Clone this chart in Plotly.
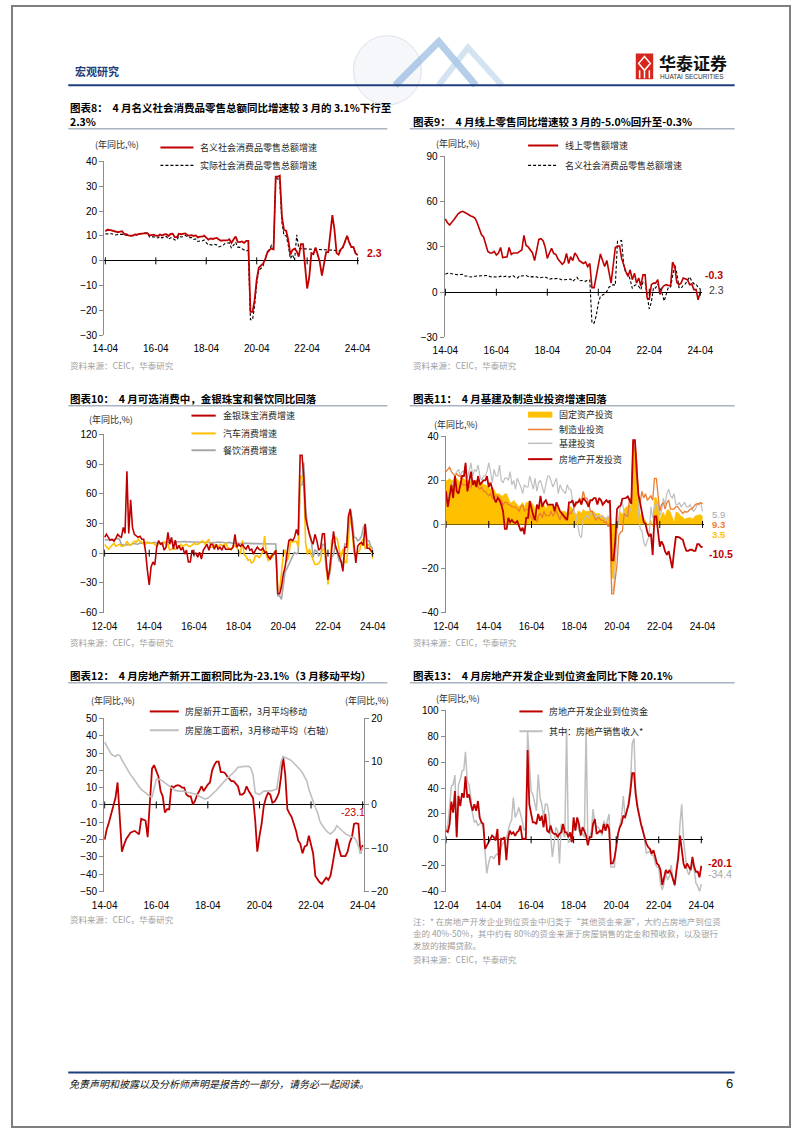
import pandas as pd
import plotly.graph_objects as go

W, H = 802, 1133

# ======================= DATA =======================
# 图表8  (monthly, from 2014-04)
c8_start = "2014-04-01"
c8_nominal = [
    11.9, 12.5, 12.4, 12.2, 11.9, 11.6, 11.5, 11.7, 11.9,
    10.7, 10.7, 10.2, 10.0, 10.1, 10.6, 10.5, 10.8, 10.9, 11.0, 11.2, 11.1,
    10.2, 10.2, 10.5, 10.1, 10.0, 10.6, 10.2, 10.6, 10.7, 10.0, 10.8, 10.9,
    9.5, 9.5, 10.9, 10.7, 10.7, 11.0, 10.4, 10.1, 10.3, 10.0, 10.2, 9.4,
    9.7, 9.7, 10.1, 9.4, 8.5, 9.0, 8.8, 9.0, 9.2, 8.6, 8.1, 8.2,
    8.2, 8.2, 8.7, 7.2, 8.6, 9.8, 7.6, 7.5, 7.8, 7.2, 8.0, 8.0,
    -20.5, -20.5, -15.8, -7.5, -2.8, -1.8, -1.1, 0.5, 3.3, 4.3, 5.0, 4.6,
    33.8, 33.8, 34.2, 17.7, 12.4, 12.1, 8.5, 2.5, 4.4, 4.9, 3.9, 1.7,
    6.7, 6.7, -3.5, -11.1, -6.7, 3.1, 2.7, 5.4, 2.5, -0.5, -5.9, -1.8,
    3.5, 3.5, 10.6, 18.4, 12.7, 3.1, 2.5, 4.6, 5.5, 7.6, 10.1, 7.4,
    5.5, 5.5, 3.1, 2.3,
]
c8_real = [
    10.8, 10.9, 10.8, 10.9, 10.6, 10.4, 10.6, 10.8, 10.7,
    10.5, 10.5, 10.2, 10.0, 10.2, 10.6, 10.4, 10.8, 10.9, 11.1, 11.3, 11.1,
    9.6, 9.6, 9.7, 9.3, 9.2, 9.8, 9.2, 9.8, 9.8, 8.7, 9.3, 9.2,
    8.4, 8.4, 10.0, 9.6, 9.7, 10.2, 9.6, 9.3, 9.4, 8.6, 8.8, 7.8,
    8.0, 8.0, 8.4, 7.2, 6.4, 6.5, 6.3, 6.6, 6.4, 5.6, 5.8, 6.2,
    7.1, 7.1, 7.2, 5.1, 6.4, 7.5, 5.5, 5.4, 4.9, 4.5, 3.9, 4.3,
    -23.7, -23.7, -18.1, -9.1, -3.7, -3.1, -2.1, 0.5, 3.7, 4.5, 6.3, 5.4,
    33.0, 33.0, 31.6, 15.4, 10.2, 10.1, 6.4, 0.9, 2.5, 0.2, 10.5, 5.0,
    4.8, 4.8, 4.8, 4.7, 4.7, 4.7, 4.6, 4.6, 4.6, 4.6, 4.5, 4.5,
    4.4, 4.4, 4.3, 4.3, 4.2, 4.0, 3.8, 4.6, 5.5, 7.6, 10.1, 7.4,
    5.5, 5.5, 3.1, 2.3,
]

# 图表9 (monthly, from 2014-04)
c9_start = "2014-04-01"
c9_online = [
    48.6, 46, 44.5, 46, 48, 50, 52, 53, 53.6,
    53, 52, 51, 50.5, 50, 49, 46, 42, 38, 36.6, 32, 27,
    26, 26, 27, 24.6, 26, 29.6, 23, 23, 23.5, 29.6, 25, 26,
    26, 26, 27, 28, 37.7, 31, 30, 28, 26, 21, 28, 35,
    35.5, 34, 30, 22.4, 26, 29, 25.7, 25, 22, 20, 18.5, 20,
    25.7, 19, 23.5, 21, 26, 24, 21, 20, 19, 20, 17, 19,
    3, 3, 10.5, 19.6, 25.3, 21, 17, 21, 12, 6, 18, 29.6,
    30.5, 30.5, 22.4, 17, 13.7, 10.4, 14.8, 8.3, 12.6, 6, 9.4, 4,
    11.5, 11.5, -3.7, -5, 5, 6, 6, 8.3, -1.5, 2.8, 4.4, 5,
    4.4, 4.4, 20, 17, 6.5, 5, 6, 9.4, 9, 8.3, 5, 5.5,
    1.7, 1.7, -5, -0.3,
]
c9_nominal = c8_nominal

# 图表10 (monthly, from 2012-04)
c10_start = "2012-04-01"
c10_jewelry = [
    16, 19, 16, 13, 14, 12, 15, 19, 17,
    16, 26, 20, 82.7, 20, 54, 26, 19, 17, 16, 17, 14,
    14, 1, -17, -32, -14, -9, -12, 6, 12.7, 9, 10, 3,
    6, 21, 9, 16, 4, 13, 4, 8, 3, 6, -1, 3,
    -9, -9, 3, -1, 0, -4, 1, -6, 3, 6, 9, 3,
    9, 9, 4, 9, 4, 6, 3, 8, 4, 4, 4, 4,
    6, 19, 6, 9, 7, 9, 6, 4, 8, 3, 4, -1,
    3, 6, 4, 3, 5, 1, 1, -4, -6, -2, -1, 3,
    -41, -41, -34, -21, -14, -1, 12.7, 14, 12.7, 16, 24, 18,
    99, 99, 77.7, 36, 26, 19, 12.7, 9, 19, 12.7, 3, 5,
    19.5, 19.5, -7.1, -26.7, -15.5, 8.1, 22.1, 7.2, 1.5, -4.7, -8.1, -18.4,
    5.9, 5.9, 37.4, 44.7, 24.4, 7.8, -10.0, 7.2, 9.7, 10.7, 7.7, 29.4,
    5.0, 5.0, 3.2, 0.7,
]
c10_auto = [
    8.7, 6, 4, 6, 8, 10, 7, 8, 9,
    7, 7, 8, 12, 9, 8, 10, 12, 11, 14, 12, 11,
    9, 9, 11, 10, 10, 10, 9, 7, 10, 10, 8, 12,
    9, 9, 3, 4.5, 5, 4, 6, 6, 9, 7, 8, 9,
    7, 7, 8, 10, 9, 9, 10, 12, 12, 9, 12, 14,
    6, 6, 8, 7, 6, 9, 8, 8, 10, 6, 5, 3,
    7.4, 7.4, 5.7, 2.0, -1.0, 13.0, -2.0, -3.2, -7.1, -6.4, -10.0, -8.5,
    -2.8, -2.8, -4.4, -2.2, 1.8, 17.2, -2.6, -8.1, -2.0, -4.6, 1.0, 1.8,
    -37, -37, -18.1, -2.1, 3.5, -8.2, -1.8, 11.8, 11.3, 12.0, 11.8, 6.4,
    77.6, 77.6, 72.0, 10.1, -1.4, 4.1, -1.9, -7.4, -11.5, -11.5, -10.3, -7.4,
    3.6, 3.6, -7.5, -31.6, -16.0, 13.9, 9.7, 15.9, 14.2, 3.9, -4.2, 4.6,
    -9.4, -9.4, 11.5, 38.0, 24.2, -1.1, -1.5, 1.1, 2.8, 11.4, 14.7, 4.0,
    8.7, 8.7, 3.3, -5.6,
]
c10_catering = [
    13.8, 13.3, 13.8, 13.0, 13.2, 13.9, 14.3, 14.7, 14.3,
    8.4, 8.4, 7.8, 8.8, 8.3, 8.3, 9.9, 9.3, 9.2, 9.0, 10.3, 10.1,
    10.8, 10.8, 10.6, 10.8, 10.0, 10.4, 11.1, 9.9, 10.5, 10.3, 10.6, 10.7,
    11.1, 11.1, 11.5, 11.5, 11.5, 11.8, 11.4, 11.5, 11.7, 11.8, 11.8, 11.6,
    11.3, 11.3, 11.2, 11.2, 11.2, 11.2, 10.6, 10.9, 10.7, 10.6, 10.8, 10.8,
    10.4, 10.4, 10.9, 10.9, 11.3, 11.3, 11.3, 10.7, 10.3, 10.9, 10.9, 10.4,
    9.8, 9.8, 10.1, 9.6, 9.5, 10.1, 9.9, 9.8, 9.6, 9.4, 9.5, 9.6,
    9.6, 9.6, 9.6, 9.4, 9.4, 9.4, 9.3, 9.6, 9.3, 9.4, 9.4, 9.3,
    -43.1, -43.1, -46.8, -31.1, -18.9, -15.2, -11.0, -7.0, -2.9, 0.8, -0.6, 0.4,
    68.9, 68.9, 91.6, 46.4, 26.6, 20.5, 14.3, -4.5, 3.1, 2.0, -2.7, -1.0,
    8.9, 8.9, -16.4, -22.7, -21.1, -4.0, -1.5, 8.4, -1.7, -8.1, -8.4, -14.1,
    9.2, 9.2, 26.3, 43.8, 35.1, 16.1, 15.8, 12.4, 13.8, 17.1, 25.8, 30.0,
    12.5, 12.5, 6.9, 4.4,
]

# 图表11 (monthly, from 2012-04)
c11_start = "2012-04-01"
c11_fai = [
    20, 20, 21, 20, 20, 21, 21, 20, 19,
    21, 21, 20, 20, 20, 19.6, 20, 20, 20, 20, 19, 19,
    18, 18, 17.5, 17, 16, 17, 16, 14, 14, 14, 13, 13,
    14, 14, 12, 10, 10, 11, 10, 9, 8, 9, 10, 8,
    10, 10, 11, 10, 9, 7, 4, 8, 9, 9, 9, 7,
    9, 9, 9, 8, 8, 8, 7, 6, 6, 6, 6, 5,
    8, 8, 7, 5, 4, 6, 6, 5, 7, 6, 6, 6,
    6, 6, 6, 5, 5, 5, 4, 4, 3, 3, 3, 3,
    -24.5, -24.5, -16, -0.9, 3.5, 5.8, 4.3, 7, 7.8, 8.5, 9, 8.5,
    35, 35, 25.6, 12, 4, 5.5, 2.7, 1.9, -0.4, 0.6, 2, -0.9,
    12.2, 12.2, 9.3, 1.8, 4.4, 5.6, 3.6, 6.4, 6.7, 5.5, 3.2, 1,
    5.5, 5.5, 4.7, 3.6, 3.4, 2.4, 2.8, 2.9, 3.1, 2.6, 2.9, 4,
    4.2, 4.2, 4.5, 3.5,
]
c11_mfg = [
    24, 25, 26, 24, 23, 22, 23, 22, 22,
    18, 18, 18, 18, 17, 17, 19, 18, 20, 17, 16, 17,
    15, 15, 14, 13, 14, 12, 12, 13, 13, 12, 11, 9,
    10, 10, 9, 9, 8, 8, 8, 7, 6, 8, 9, 6,
    7, 7, 4, 3, 2, 3, 1, 4, 5, 3, 6, 4,
    4, 4, 6, 4, 5, 6, 4, 2, 5, 3, 2, 3,
    5, 5, 6, 8, 9, 10, 12, 10, 15, 12, 12, 10,
    6, 6, 4, 2, 3, 3, 2, 2, 1, 1, -1, 1,
    -31.5, -31.5, -25, -18, -5, -3.5, -3, 5, 4, 3.7, 12, 10,
    37.3, 37.3, 29, 13, 10, 15, 12, 14, 11, 12, 13, 11,
    20.9, 20.9, 15, 6, 9, 9.9, 7, 10, 11, 7, 7, 7,
    8.1, 8.1, 7, 6, 5, 6, 5.5, 6, 7, 7, 8, 9,
    9.4, 9.4, 9.9, 9.3,
]
c11_infra = [
    10, 12, 14, 17, 20, 22, 24, 25, 22,
    24, 24, 27, 21, 24, 28, 22, 25, 24, 27, 22, 20,
    22, 22, 24, 28, 24, 19, 25, 22, 22, 27, 20, 19,
    21, 21, 20, 24, 18, 20, 16, 21, 19, 17, 14, 18,
    17, 17, 22, 19, 16, 21, 15, 19, 20, 17, 14, 18,
    22, 22, 19, 17, 19, 21, 14, 18, 16, 15, 14, 18,
    16, 16, 11, 6, 4, 0, -5, -6, 2, 3, 4, 3,
    5, 5, 5, 3, 4, 4, 3, 4, 3, 2, 4, 2,
    -30, -30, -19, -3, 3, 9, 10, 5, 3, 5, 7, 6,
    35, 35, 29, 6, -2, -3, -8, -10, -7, -5, 8, 3,
    8.6, 8.6, 10, 4, 6, 12, 9, 14, 16, 13, 12, 14,
    9, 9, 10, 8, 9, 10, 8, 8, 9, 7, 6, 7,
    9, 9, 10, 5.9,
]
c11_realestate = [
    15, 8, 13, 18, 12, 22, 15, 14, 18,
    22, 22, 28, 15, 20, 24, 18, 20, 17, 22, 18, 19,
    20, 20, 22, 17, 19, 16, 12, 10, 12, 11, 9, 6,
    -2, -2, 3, 1, 2, 1, 0.7, 1.5, -1, -3, -1.5, -4.5,
    3, 3, 10.6, 7, 4, 2, 9, 7, 13, 8, 10, 11,
    9, 9, 9, 9, 6, 10, 8, 6, 5, 4, 3, 2,
    10, 10, 11, 8, 10, 10, 11, 9, 12, 11, 10, 8,
    11, 11, 12, 12, 9, 12, 11, 9, 10, 11, 10, 11,
    -16.3, -16.3, -7.7, 7, 8.1, 8.5, 11.7, 11.8, 12, 12.7, 10.9, 9.3,
    38.3, 38.3, 25, 13.7, 9.8, 5.8, 1.1, 0.3, -3.5, -5.4, -4.3, -13.9,
    3.7, 3.7, -2.4, -10.1, -7.7, -9.4, -12.3, -13.8, -12.1, -16, -19.9, -12.2,
    -5.7, -5.7, -5.9, -6.5, -7, -10, -12, -12, -11.5, -11.5, -12, -12,
    -9, -9, -10, -10.5,
]

# 图表12 (monthly, from 2014-04)
c12_start = "2014-04-01"
c12_newstarts = [
    -20, -14, -10, -5, -1.5, 4, 13, -8, -27,
    -23, -19.6, -18, -16, -15.5, -15, -16, -17, -8, -8.5, -9, -18.6,
    2, 21, 23, 20, 16.5, 8, 5, -4.4, -2.5, -2.5, 11, 10,
    11, 11.4, 11, 10, 10, 6, 5, 5, 0.4, 2.3, 6, 8,
    10.8, 8, 10, 11.8, 13, 20, 23, 25, 25, 19, 19, 18.4,
    16.5, 15, 13.7, 13.7, 12, 10.8, 6, 6, 7, 10.8, 8, 6,
    4, -9, -27, -18, -11, -0.6, 4, 7, 6, 1.3, 2, 4,
    7, 16.5, 28, 17.5, -2.5, -5, -7, -11, -15, -20.5, -22.4, -28,
    -24, -23.4, -17.7, -23, -28, -41, -43, -44.7, -45.6, -44, -42, -43.3,
    -41, -34, -26, -19.6, -25, -29.6, -29.6, -29.6, -27, -21.5, -18.6, -11,
    -10.5, -11, -28, -23.1,
]
c12_construction = [
    14.5, 13.5, 12.5, 11.8, 11.4, 11.2, 11.6, 11.4, 10.4,
    9.5, 8.5, 7.8, 7.0, 6.4, 5.6, 4.8, 4.2, 3.6, 3.2, 2.8, 2.4,
    2.0, 1.8, 4.0, 5.9, 5.9, 5.8, 5.5, 5.1, 4.6, 4.2, 4.0, 3.6,
    3.3, 3.2, 3.2, 3.2, 3.2, 3.0, 2.9, 2.8, 2.7, 2.5, 2.4, 2.0,
    1.7, 1.5, 1.4, 1.6, 2.0, 2.4, 2.8, 3.4, 4.0, 4.6, 5.1, 5.6,
    6.2, 6.6, 7.0, 7.4, 8.0, 8.7, 8.8, 8.9, 8.9, 8.9, 8.9, 8.5,
    7.0, 2.8, 2.6, 2.4, 2.8, 3.2, 3.2, 3.2, 3.2, 3.3, 3.5, 3.6,
    7.0, 10.0, 11.2, 11.0, 10.8, 10.5, 10.2, 9.7, 9.2, 8.6, 8.1, 7.4,
    6.6, 5.5, 3.6, 2.0, 0.5, -0.6, -1.7, -3.6, -4.6, -5.3, -5.9, -6.4,
    -6.7, -6.3, -5.8, -4.8, -5.2, -5.6, -6.2, -6.7, -7.0, -7.3, -7.4, -7.5,
    -8.2, -9.5, -11.3, -9.7,
]

# 图表13 (monthly, from 2012-04)
c13_start = "2012-04-01"
c13_funds = [
    7, 6, 12, 29.5, 21, 37.7, 2, 34, 26,
    36, 32.6, 49, 32.6, 35, 27.5, 22.4, 27.5, 22.4, 30, 17, 13.5,
    12.2, -7, -4.3, -1.8, 1, 3.3, 2, -0.5, 8.4, -19.6, 0.8, 0.8,
    2, -15.8, 0.8, 7, 4.6, 5.8, 3, 5.8, 7, 11, 0.8, 0.8,
    0.8, 69.5, 27.5, 20, 13.5, 13.5, 12.2, 20, 14.8, 18.6, 9.7, 20,
    7, 5.8, 11, 5.8, 4.6, 4.6, 2, 4.6, 5.8, 12.2, 5.8, 5.8,
    2, 5.8, -1.8, 17.3, 7, 17.3, 12.2, 3.3, 9.7, 7, 3.3, -4.3,
    2, 2, 12.2, 16, 4.6, 5.8, 7, 5.8, 12.2, 7, 12.2, 8.4,
    -18.3, -18.3, -14.5, -5.6, 4.6, 9.7, 12.2, 18.6, 17.3, 22.4, 27.5, 37.7,
    51.6, 51.6, 35, 25, 17.3, 12, 7, 2, -3, -5.6, -7, -10.7,
    -8.1, -13.2, -18.3, -19.6, -23.4, -34.9, -28.5, -23.4, -26, -23.4, -26, -29.8,
    -34.9, -23.4, -14.5, 3.3, -6.9, -18.3, -22.1, -18.3, -20.9, -23.4, -13.2, -20.9,
    -24.7, -24.7, -29, -20.1,
]
c13_sales = [
    7, 11.5, 25, 41.5, 42.7, 50, 2, 42.7, 46.6,
    53, 54, 68, 45, 42.7, 32.6, 20, 13.5, 14.8, 11, 12.2, 13.5,
    8.4, -13.2, -26, -18.3, -13.2, -13.2, -14.5, -12, -10.7, -13.2, -5.6, -3,
    -1, 0.8, 6, 12.2, 14.8, 32.6, 17.3, 20, 25, 20, 14.8, 7,
    9.7, 83.5, 55.5, 37.7, 35, 27.5, 22.4, 50.4, 32.6, 27.5, 17.3, 27.5,
    27.5, 20, 4.6, -13.2, -3, 9.7, 7, -18.3, 12.2, 5, 2, 86,
    -1.8, -1, 2, 12.2, 7, 14.8, 7, 5.8, 4.6, 2, 84.7, -0.5,
    2, 7, 23.7, 12.2, 9.7, 9.7, 7, 3.3, 14.8, 9.7, 14.8, 20,
    -21, -21, -21, -3, 4.6, 12.2, 17.3, 33.8, 17.3, 22.4, 30, 42.7,
    74.5, 78.4, 40, 27.5, 20, 12, 9.7, 0, -10.7, -9.4, -9.4, -12,
    -12, -18.3, -21, -21, -33.6, -38.7, -33.6, -26, -31, -28.5, -19.6, -31,
    -36, -21, -12, 12.2, 27.5, -0.5, -14.5, -23.4, -27.2, -23.4, -18.3, -23.4,
    -33.6, -36, -40, -34.4,
]

ticks_14 = ["2014-04-01", "2016-04-01", "2018-04-01", "2020-04-01", "2022-04-01", "2024-04-01"]
ticks_12 = ["2012-04-01", "2014-04-01", "2016-04-01", "2018-04-01", "2020-04-01", "2022-04-01", "2024-04-01"]

# ======================= STYLE =======================
CJK = "Noto Sans CJK SC, sans-serif"
NUM = "Liberation Sans, Arial, sans-serif"
RED = "#C00000"
ORANGE = "#ED7D31"
YELLOW = "#FFC000"
GRAY = "#A6A6A6"
LGRAY = "#BFBFBF"
AXC = "#8C8C8C"
DASH = "3px,2px"


def X(p):
    return p / W


def Y(p):
    return 1 - p / H


def mdates(start, vals):
    return pd.date_range(start, periods=len(vals), freq="MS")


fig = go.Figure()


def add_line(xa, ya, start, vals, color, width, dash="solid"):
    fig.add_trace(go.Scatter(
        x=mdates(start, vals), y=vals, mode="lines",
        line=dict(color=color, width=width, dash=dash),
        xaxis=xa, yaxis=ya, showlegend=False, hoverinfo="skip"))


def add_ticks(xa, ya, ticks):
    fig.add_trace(go.Scatter(
        x=pd.to_datetime(ticks), y=[0] * len(ticks), mode="markers",
        marker=dict(symbol="line-ns", size=5, line=dict(color="#000", width=1)),
        xaxis=xa, yaxis=ya, showlegend=False, hoverinfo="skip"))


def xcfg(px0, px1, rng, ticks, anchor):
    return dict(domain=[X(px0), X(px1)], range=rng, type="date",
                tickvals=ticks,
                ticktext=[pd.Timestamp(t).strftime("%y-%m") for t in ticks],
                showline=False, showgrid=False, zeroline=False,
                ticks="outside", ticklen=4, tickcolor="rgba(0,0,0,0)",
                tickfont=dict(family=NUM, size=10, color="#000"),
                anchor=anchor)


def ycfg(top, bottom, rng, dtick, anchor, side="left", zero=True, overlay=None):
    d = dict(domain=[Y(bottom), Y(top)], range=[rng[0] - 0.001, rng[1] + 0.001],
             dtick=dtick, tick0=0,
             showline=True, linecolor=AXC, linewidth=1, showgrid=False,
             zeroline=zero, zerolinecolor="#000", zerolinewidth=1,
             ticks="outside", ticklen=4, tickcolor=AXC,
             tickfont=dict(family=NUM, size=10, color="#000"),
             anchor=anchor, side=side, layer="above traces")
    if overlay:
        d["overlaying"] = overlay
    return d


# ---- 图表8 ----
add_line("x", "y", c8_start, c8_real, "#000", 1.1, DASH)
add_line("x", "y", c8_start, c8_nominal, RED, 1.8)
add_ticks("x", "y", ticks_14)
# ---- 图表9 ----
add_line("x2", "y2", c8_start, c9_nominal, "#000", 1.1, DASH)
add_line("x2", "y2", c9_start, c9_online, RED, 1.6)
add_ticks("x2", "y2", ticks_14)
# ---- 图表10 ----
add_line("x3", "y3", c10_start, c10_catering, GRAY, 1.6)
add_line("x3", "y3", c10_start, c10_auto, YELLOW, 1.6)
add_line("x3", "y3", c10_start, c10_jewelry, RED, 1.6)
add_ticks("x3", "y3", ticks_12)
# ---- 图表11 ----
fig.add_trace(go.Scatter(
    x=mdates(c11_start, c11_fai), y=c11_fai, mode="lines", fill="tozeroy",
    fillcolor=YELLOW, line=dict(color=YELLOW, width=0.5),
    xaxis="x4", yaxis="y4", showlegend=False, hoverinfo="skip"))
add_line("x4", "y4", c11_start, c11_infra, LGRAY, 1.2)
add_line("x4", "y4", c11_start, c11_mfg, ORANGE, 1.3)
add_line("x4", "y4", c11_start, c11_realestate, RED, 1.8)
add_ticks("x4", "y4", ticks_12)
# ---- 图表12 ----
add_line("x5", "y7", c12_start, c12_construction, LGRAY, 1.6)
add_line("x5", "y5", c12_start, c12_newstarts, RED, 1.8)
add_ticks("x5", "y5", ticks_14)
# ---- 图表13 ----
add_line("x6", "y6", c13_start, c13_sales, LGRAY, 1.5)
add_line("x6", "y6", c13_start, c13_funds, RED, 1.8)
add_ticks("x6", "y6", ticks_12)

fig.update_layout(
    width=W, height=H, autosize=False,
    margin=dict(l=0, r=0, t=0, b=0),
    paper_bgcolor="#FFFFFF", plot_bgcolor="rgba(0,0,0,0)",
    showlegend=False,
    xaxis=xcfg(95, 358, ["2014-03-15", "2024-04-25"], ticks_14, "y"),
    yaxis=ycfg(157, 333, [-30, 40], 10, "x"),
    xaxis2=xcfg(446, 711, ["2014-03-22", "2024-04-22"], ticks_14, "y2"),
    yaxis2=ycfg(152, 335, [-30, 90], 30, "x2"),
    xaxis3=xcfg(95, 373, ["2012-03-25", "2024-04-20"], ticks_12, "y3"),
    yaxis3=ycfg(433, 613, [-60, 120], 30, "x3"),
    xaxis4=xcfg(447, 713, ["2012-03-25", "2024-04-20"], ticks_12, "y4"),
    yaxis4=ycfg(435, 613, [-40, 40], 20, "x4"),
    xaxis5=xcfg(95, 363, ["2014-03-25", "2024-04-22"], ticks_14, "y5"),
    yaxis5=ycfg(720, 895, [-50, 50], 10, "x5"),
    yaxis7=ycfg(720, 895, [-20, 20], 10, "x5", side="right", zero=False, overlay="y5"),
    xaxis6=xcfg(447, 712, ["2012-03-25", "2024-04-25"], ticks_12, "y6"),
    yaxis6=ycfg(712, 895, [-40, 100], 20, "x6"),
)

shapes = []
ann = []


def text(x, y, s, size=9, color="#262626", family=CJK, anchor="left", bold=False, italic=False):
    ann.append(dict(x=X(x), y=Y(y), xref="paper", yref="paper", text=("<b>%s</b>" % s) if bold else s,
                    showarrow=False, xanchor=anchor, yanchor="middle",
                    font=dict(family=family, size=size, color=color,
                              style="italic" if italic else "normal")))


def hline(x0, x1, y, color, width=1, dash="solid"):
    shapes.append(dict(type="line", xref="paper", yref="paper", x0=X(x0), x1=X(x1),
                       y0=Y(y), y1=Y(y), line=dict(color=color, width=width, dash=dash)))


# page frame
shapes.append(dict(type="rect", xref="paper", yref="paper", x0=0, x1=1, y0=0, y1=1,
                   line=dict(color="#7F7F7F", width=2)))

# header decoration (globe + chevrons)
shapes.append(dict(type="circle", xref="paper", yref="paper", x0=X(352), x1=X(422), y0=Y(100), y1=Y(30),
                   line=dict(color="#DCE3EA", width=1), fillcolor="rgba(235,240,246,0.5)", layer="below"))
shapes.append(dict(type="path", xref="paper", yref="paper",
                   path="M %f %f L %f %f L %f %f" % (X(395), Y(80), X(440), Y(36), X(478), Y(80)),
                   line=dict(color="rgba(120,165,215,0.55)", width=7)))
shapes.append(dict(type="path", xref="paper", yref="paper",
                   path="M %f %f L %f %f L %f %f" % (X(440), Y(80), X(470), Y(42), X(505), Y(80)),
                   line=dict(color="rgba(170,200,230,0.5)", width=6)))

# header / footer
text(63, 66, "宏观研究", size=11, color="#1F3D7A", bold=True)
hline(58, 745, 80, "#1F3F7F", 2)
shapes.append(dict(type="rect", xref="paper", yref="paper", x0=X(643), x1=X(661), y0=Y(74), y1=Y(48),
                   line=dict(width=0), fillcolor="#D7261E"))
shapes.append(dict(type="path", xref="paper", yref="paper",
                   path="M %f %f L %f %f L %f %f L %f %f Z" % (X(652), Y(51), X(658), Y(58), X(652), Y(65), X(646), Y(58)),
                   line=dict(color="#FFFFFF", width=1.5), fillcolor="rgba(0,0,0,0)"))
for xx in (647, 652, 657):
    shapes.append(dict(type="line", xref="paper", yref="paper", x0=X(xx), x1=X(xx), y0=Y(65), y1=Y(73),
                       line=dict(color="#FFFFFF", width=1.5)))
text(665, 57, "华泰证券", size=17, color="#111", bold=True)
text(666, 71, "HUATAI SECURITIES", size=6.5, color="#333", family=NUM)
hline(58, 745, 1078, "#1F3F7F", 2)
text(57, 1089, "免责声明和披露以及分析师声明是报告的一部分，请务必一起阅读。", size=10, color="#111", italic=True)
text(745, 1089, "6", size=13, color="#111", family=NUM, anchor="right")

# titles
TC = "#000"
text(58, 103, "图表8：  4 月名义社会消费品零售总额同比增速较 3 月的 3.1%下行至", 10.5, TC, bold=True)
text(58, 117, "2.3%", 10.5, TC, bold=True)
hline(58, 387, 124, "#A9B4C2", 1.5)
text(411, 117, "图表9：  4 月线上零售同比增速较 3 月的-5.0%回升至-0.3%", 10.5, TC, bold=True)
hline(410, 745, 124, "#A9B4C2", 1.5)
text(58, 397, "图表10：  4 月可选消费中，金银珠宝和餐饮同比回落", 10.5, TC, bold=True)
hline(58, 387, 404, "#A9B4C2", 1.5)
text(411, 397, "图表11：  4 月基建及制造业投资增速回落", 10.5, TC, bold=True)
hline(410, 745, 404, "#A9B4C2", 1.5)
text(58, 677, "图表12：  4 月房地产新开工面积同比为-23.1%（3 月移动平均）", 10.5, TC, bold=True)
hline(58, 387, 684, "#A9B4C2", 1.5)
text(411, 677, "图表13：  4 月房地产开发企业到位资金同比下降 20.1%", 10.5, TC, bold=True)
hline(410, 745, 684, "#A9B4C2", 1.5)

SRC = "#A0A0A0"
src = "资料来源：CEIC，华泰研究"
text(58, 363, src, 8.5, SRC)
text(411, 363, src, 8.5, SRC)
text(58, 643, src, 8.5, SRC)
text(411, 643, src, 8.5, SRC)
text(58, 923, src, 8.5, SRC)
text(411, 925, "注：* 在房地产开发企业到位资金中归类于“其他资金来源”，大约占房地产到位资", 8.5, SRC)
text(411, 937, "金的 40%-50%，其中约有 80%的资金来源于房屋销售的定金和预收款，以及银行", 8.5, SRC)
text(411, 949, "发放的按揭贷款。", 8.5, SRC)
text(411, 963, src, 8.5, SRC)

# units
UC = "#262626"
text(108, 140, "(年同比,%)", 9, UC, anchor="center")
text(460, 139, "(年同比,%)", 9, UC, anchor="center")
text(102, 418, "(年同比,%)", 9, UC, anchor="center")
text(458, 423, "(年同比,%)", 9, UC, anchor="center")
text(104, 702, "(年同比,%)", 9, UC, anchor="center")
text(366, 702, "(年同比,%)", 9, UC, anchor="center")
text(460, 700, "(年同比,%)", 9, UC, anchor="center")

# legends
hline(153, 187, 143, RED, 2)
text(192, 143, "名义社会消费品零售总额增速")
hline(153, 187, 161, "#000", 1.2, DASH)
text(192, 161, "实际社会消费品零售总额增速")

hline(532, 563, 141, RED, 2)
text(568, 141, "线上零售额增速")
hline(532, 563, 161, "#000", 1.2, DASH)
text(568, 161, "名义社会消费品零售总额增速")

hline(185, 210, 414, RED, 2)
text(215, 414, "金银珠宝消费增速")
hline(185, 210, 432, YELLOW, 2)
text(215, 432, "汽车消费增速")
hline(185, 210, 449, GRAY, 2)
text(215, 449, "餐饮消费增速")

shapes.append(dict(type="rect", xref="paper", yref="paper", x0=X(532), x1=X(557), y0=Y(416), y1=Y(410),
                   line=dict(width=0), fillcolor=YELLOW))
text(562, 413, "固定资产投资")
hline(532, 557, 428, ORANGE, 1.5)
text(562, 428, "制造业投资")
hline(532, 557, 442, LGRAY, 1.5)
text(562, 442, "基建投资")
hline(532, 557, 458, RED, 2)
text(562, 458, "房地产开发投资")

hline(142, 172, 713, RED, 2)
text(176, 713, "房屋新开工面积，3月平均移动")
hline(142, 172, 732, LGRAY, 2)
text(176, 732, "房屋施工面积，3月移动平均（右轴）")

hline(523, 547, 713, RED, 2)
text(552, 713, "房地产开发企业到位资金")
hline(523, 547, 733, LGRAY, 2)
text(552, 733, "其中：房地产销售收入*")

# end labels
text(364, 250, "2.3", 10.5, RED, NUM, bold=True)
text(712, 272, "-0.3", 10.5, RED, NUM, bold=True)
text(716, 287, "2.3", 10.5, "#404040", NUM)
text(720, 514, "5.9", 9.5, GRAY, NUM)
text(720, 524, "9.3", 9.5, ORANGE, NUM, bold=True)
text(720, 534, "3.5", 9.5, YELLOW, NUM, bold=True)
text(716, 554, "-10.5", 10.5, RED, NUM, bold=True)
text(352, 815, "-23.1", 10.5, RED, NUM, anchor="center")
text(715, 866, "-20.1", 10.5, RED, NUM, bold=True)
text(715, 877, "-34.4", 10.5, GRAY, NUM)

fig.update_layout(shapes=shapes, annotations=ann)
fig.write_html(
    "out.html",
    config={"responsive": False, "displayModeBar": False},
    post_script="document.body.style.margin='0';document.body.style.padding='0';document.body.style.overflow='hidden';",
)
